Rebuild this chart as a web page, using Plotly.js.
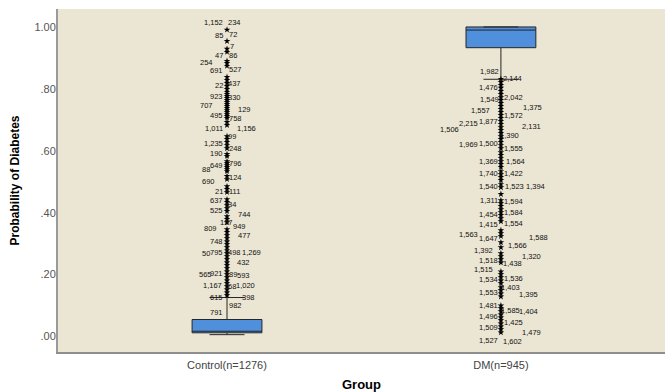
<!DOCTYPE html>
<html>
<head>
<meta charset="utf-8">
<script src="https://cdn.plot.ly/plotly-3.0.1.min.js"></script>
<style>html,body{margin:0;padding:0;background:#fff;}#chart{width:665px;height:392px;}</style>
</head>
<body>
<div id="chart"></div>
<script>
// ---- data ----
const categories = ['Control(n=1276)', 'DM(n=945)'];
const q1 = [0.012, 0.933];
const median = [0.017, 0.990];
const q3 = [0.055, 1.000];
const lowerWhisker = [0.006, 0.831];
const upperWhisker = [0.126, 1.000];

const controlOutliers = [0.991, 0.954, 0.929, 0.919, 0.890, 0.883, 0.874, 0.838, 0.828, 0.819, 0.809, 0.799, 0.790,
  0.783, 0.777, 0.770, 0.764, 0.757, 0.751, 0.744, 0.738, 0.731, 0.725, 0.718, 0.712, 0.706, 0.693, 0.683,
  0.647, 0.638, 0.628, 0.618, 0.608, 0.589, 0.583, 0.566, 0.560, 0.553, 0.547, 0.540, 0.534, 0.518, 0.508,
  0.485, 0.476, 0.466, 0.443, 0.434, 0.424, 0.414, 0.405, 0.388, 0.379, 0.369, 0.346, 0.337, 0.327, 0.317,
  0.307, 0.298, 0.288, 0.278, 0.269, 0.259, 0.249, 0.239, 0.230, 0.220, 0.210, 0.201, 0.191, 0.181, 0.172,
  0.162, 0.152, 0.142, 0.133];

const dmOutliers = [0.832, 0.822, 0.812, 0.803, 0.793, 0.783, 0.773, 0.764, 0.754, 0.744, 0.735, 0.725, 0.715,
  0.706, 0.696, 0.686, 0.676, 0.667, 0.657, 0.647, 0.638, 0.628, 0.618, 0.608, 0.595, 0.586, 0.576, 0.566,
  0.557, 0.547, 0.534, 0.524, 0.515, 0.505, 0.492, 0.482, 0.460, 0.440, 0.430, 0.421, 0.411, 0.401, 0.392,
  0.382, 0.372, 0.343, 0.333, 0.324, 0.304, 0.288, 0.269, 0.259, 0.249, 0.239, 0.210, 0.201, 0.191, 0.181,
  0.172, 0.159, 0.149, 0.139, 0.129, 0.100, 0.091, 0.081, 0.071, 0.061, 0.052, 0.042, 0.032, 0.023, 0.013];

const controlLabelIds = ['1,152','234','85','72','7','47','86','254','691','527','22','437','923','330','707','129',
  '495','758','1,011','1,156','99','1,235','248','190','796','649','88','124','690','21','111','637','34','525',
  '744','127','949','809','477','748','795','50','498','1,269','432','921','565','89','593','1,167','1,020','68',
  '398','615','982','791'];
const controlLabelValues = [1.013,1.013,0.972,0.977,0.938,0.907,0.907,0.886,0.859,0.862,0.812,0.816,0.776,0.772,
  0.745,0.732,0.715,0.705,0.672,0.672,0.646,0.625,0.608,0.592,0.560,0.554,0.538,0.514,0.501,0.470,0.470,0.440,
  0.425,0.408,0.395,0.368,0.355,0.349,0.325,0.308,0.271,0.268,0.271,0.271,0.239,0.204,0.201,0.201,0.197,0.165,
  0.165,0.160,0.127,0.125,0.100,0.077];

const dmLabelIds = ['1,982','2,144','1,476','2,042','1,549','1,375','1,557','1,572','1,877','2,215','2,131','1,506',
  '1,390','1,500','1,969','1,555','1,369','1,564','1,740','1,422','1,540','1,523','1,394','1,311','1,594','1,584',
  '1,454','1,554','1,415','1,563','1,588','1,647','1,566','1,392','1,320','1,518','1,438','1,515','1,536','1,534',
  '1,403','1,553','1,395','1,481','1,585','1,404','1,496','1,425','1,509','1,479','1,527','1,602'];
const dmLabelValues = [0.855,0.832,0.803,0.772,0.765,0.740,0.729,0.713,0.694,0.689,0.679,0.670,0.648,0.625,0.621,
  0.608,0.567,0.567,0.528,0.528,0.484,0.484,0.484,0.438,0.435,0.400,0.395,0.366,0.362,0.330,0.319,0.316,0.294,
  0.279,0.260,0.244,0.236,0.215,0.188,0.184,0.158,0.141,0.136,0.100,0.085,0.082,0.064,0.046,0.028,0.012,-0.012,-0.015];

const yTickValues = [0, 0.2, 0.4, 0.6, 0.8, 1.0];
const yTickLabels = ['.00', '.20', '.40', '.60', '.80', '1.00'];

// ---- label placement (layout only) ----
const controlLabelSide = ['L','R','L','R','R','L','R','L','L','R','L','R','L','R','L','R','L','R','L','R','R','L','R',
  'L','R','L','L','R','L','L','R','L','R','L','R','C','R','L','R','L','L','L','R','R','R','L','L','R','R','L','R','R',
  'R','L','R','L'];
const controlLabelGap = [4,1,4,2,3,4,2,14,4,2,4,1,4,1,14,11,4,2,4,10,1,4,2,4,2,4,17,2,12,4,2,4,1,4,11,-1,6,10,11,4,
  4,17,1,15,10,4,15,2,10,5,9,1,15,4,2,4];
const dmLabelSide = ['L','R','L','R','L','R','L','R','L','L','R','L','R','L','L','R','L','R','L','R','L','R','R','L',
  'R','R','L','R','L','L','R','L','R','L','R','L','R','L','R','L','R','L','R','L','R','R','L','R','L','R','L','R'];
const dmLabelGap = [2,2,3,3,2,22,11,3,3,23,21,42,-1,3,23,3,3,5,3,3,3,4,25,3,3,3,3,3,3,23,28,3,7,8,21,3,2,8,3,3,0,3,
  18,3,0,18,3,3,3,21,3,2];

const fontFam = '"Liberation Sans", Arial, sans-serif';

function makeAnnotations(cat, ids, vals, sides, gaps) {
  return ids.map((id, i) => {
    const s = sides[i];
    return {
      x: cat, y: vals[i], xref: 'x', yref: 'y', text: id, showarrow: false,
      xanchor: s === 'L' ? 'right' : (s === 'R' ? 'left' : 'center'),
      yanchor: 'middle',
      xshift: s === 'L' ? -gaps[i] : gaps[i],
      borderpad: 0, borderwidth: 0,
      font: {family: fontFam, size: 7.5, color: '#111'}
    };
  });
}

const traces = [
  {
    type: 'box', x: categories, q1: q1, median: median, q3: q3,
    lowerfence: lowerWhisker, upperfence: upperWhisker,
    boxpoints: false, fillcolor: '#4f8fdc',
    line: {color: '#262626', width: 1}, whiskerwidth: 0.5, width: 0.255,
    hoverinfo: 'skip', showlegend: false
  },
  {
    type: 'scatter', mode: 'markers', x: controlOutliers.map(() => categories[0]), y: controlOutliers,
    marker: {symbol: 'star', size: 5, color: '#000'}, hoverinfo: 'skip', showlegend: false
  },
  {
    type: 'scatter', mode: 'markers', x: dmOutliers.map(() => categories[1]), y: dmOutliers,
    marker: {symbol: 'star', size: 5, color: '#000'}, hoverinfo: 'skip', showlegend: false
  }
];

const layout = {
  width: 665, height: 392,
  margin: {l: 58, r: 0, t: 9, b: 40, pad: 0},
  paper_bgcolor: '#ffffff', plot_bgcolor: '#ebe5d3',
  font: {family: fontFam},
  showlegend: false,
  xaxis: {
    type: 'category', range: [-0.617, 1.599],
    showline: true, linecolor: '#8f8f8f', linewidth: 2,
    showgrid: false, zeroline: false, ticks: '',
    tickfont: {family: fontFam, size: 11, color: '#444'},
    ticklabelstandoff: 2,
    title: {text: 'Group', font: {family: fontFam, size: 13, color: '#000', weight: 'bold'}, standoff: 12},
    automargin: false, fixedrange: true
  },
  yaxis: {
    range: [-0.050, 1.058],
    tickvals: yTickValues, ticktext: yTickLabels,
    showline: true, linecolor: '#9a9a9a', linewidth: 2,
    showgrid: false, zeroline: false, ticks: '',
    tickfont: {family: fontFam, size: 11, color: '#555'},
    ticklabelstandoff: -2,
    title: {text: 'Probability of Diabetes', font: {family: fontFam, size: 12, color: '#000', weight: 'bold'}, standoff: 12},
    automargin: false, fixedrange: true
  },
  annotations: makeAnnotations(categories[0], controlLabelIds, controlLabelValues, controlLabelSide, controlLabelGap)
    .concat(makeAnnotations(categories[1], dmLabelIds, dmLabelValues, dmLabelSide, dmLabelGap))
};

Plotly.newPlot('chart', traces, layout, {staticPlot: true, displayModeBar: false});
</script>
</body>
</html>
